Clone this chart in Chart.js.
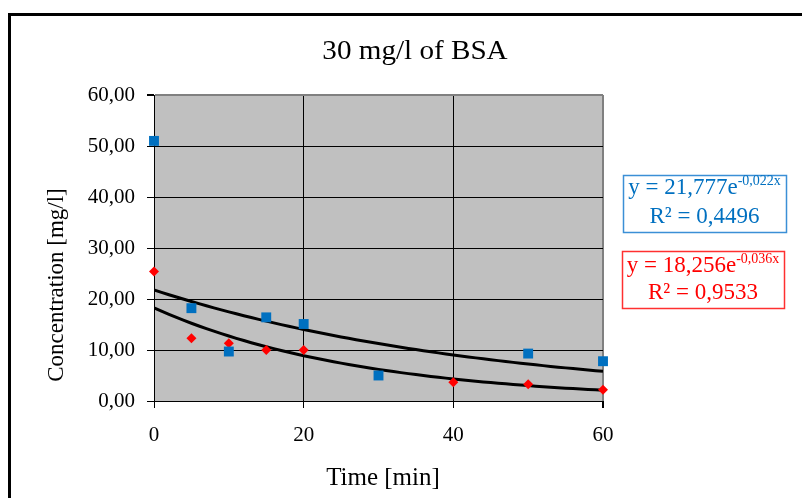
<!DOCTYPE html>
<html>
<head>
<meta charset="utf-8">
<script src="https://cdn.jsdelivr.net/npm/chart.js@4"></script>
<style>
  html, body { margin: 0; padding: 0; background: #fff; }
  #wrap { width: 802px; height: 498px; }
</style>
</head>
<body>
<div id="wrap"><canvas id="bsaChart" width="802" height="498"></canvas></div>
<script>
// measured points
const blueTimes = [0, 5, 10, 15, 20, 30, 50, 60];
const blueConc = [51.0, 18.2, 9.7, 16.4, 15.1, 5.0, 9.3, 7.8];
const redTimes = [0, 5, 10, 15, 20, 40, 50, 60];
const redConc = [25.4, 12.3, 11.3, 10.0, 10.0, 3.7, 3.3, 2.2];

// exponential fits printed on the chart
const blueFit = { a: 21.777, b: -0.022, r2: '0,4496' };
const redFit = { a: 18.256, b: -0.036, r2: '0,9533' };

const chartTitle = '30 mg/l of BSA';
const xTitle = 'Time [min]';
const yTitle = 'Concentration [mg/l]';

const serif = '"Liberation Serif", "Times New Roman", serif';

function fitLine(fit) {
    const pts = [];
    for (let t = 0; t <= 60; t++) pts.push({ x: t, y: fit.a * Math.exp(fit.b * t) });
    return pts;
}
function toPoints(xs, ys) {
    return xs.map((x, i) => ({ x: x, y: ys[i] }));
}
function comma(v, d) {
    return v.toFixed(d).replace('.', ',');
}

const decor = {
    id: 'decor',
    beforeDraw(chart) {
        const ctx = chart.ctx;
        const a = chart.chartArea;
        ctx.save();
        ctx.fillStyle = '#fff';
        ctx.fillRect(0, 0, chart.width, chart.height);
        ctx.strokeStyle = '#000';
        ctx.lineWidth = 3;
        ctx.strokeRect(9.5, 14.5, 900, 600);
        ctx.fillStyle = '#c0c0c0';
        ctx.fillRect(a.left, a.top, a.right - a.left, a.bottom - a.top);
        ctx.restore();
    },
    afterDraw(chart) {
        const ctx = chart.ctx;
        ctx.save();
        ctx.fillStyle = '#000';
        ctx.textAlign = 'center';
        ctx.textBaseline = 'alphabetic';
        ctx.font = '28px ' + serif;
        stretched(ctx, chartTitle, 415, 59, 1.04);
        ctx.font = '25px ' + serif;
        stretched(ctx, xTitle, 383, 485, 1.0);
        ctx.translate(63, 285);
        ctx.rotate(-Math.PI / 2);
        ctx.font = '23px ' + serif;
        ctx.fillText(yTitle, 0, 0);
        ctx.restore();
        drawEq(ctx, 623, 175, 163, 57, '#0070c0', '#3b8fd6', blueFit, 19);
        drawEq(ctx, 622, 251, 162, 57, '#ff0000', '#ff3030', redFit, 21);
    }
};

function stretched(ctx, text, x, y, sx) {
    ctx.save();
    ctx.translate(x, y);
    ctx.scale(sx, 1);
    ctx.fillText(text, 0, 0);
    ctx.restore();
}

function drawEq(ctx, x, y, w, h, color, border, fit, base) {
    ctx.save();
    ctx.strokeStyle = border;
    ctx.lineWidth = 1.5;
    ctx.strokeRect(x + 0.5, y + 0.5, w, h);
    ctx.fillStyle = color;
    ctx.textBaseline = 'alphabetic';
    const main = 'y = ' + comma(fit.a, 3) + 'e';
    const sup = comma(fit.b, 3) + 'x';
    ctx.font = '23px ' + serif;
    const mw = ctx.measureText(main).width;
    ctx.font = '14px ' + serif;
    const sw = ctx.measureText(sup).width;
    const sx = x + w / 2 - (mw + sw) / 2;
    ctx.font = '23px ' + serif;
    ctx.fillText(main, sx, y + base);
    ctx.font = '14px ' + serif;
    ctx.fillText(sup, sx + mw, y + base - 9);
    ctx.font = '23px ' + serif;
    ctx.textAlign = 'center';
    ctx.fillText('R\u00b2 = ' + fit.r2, x + w / 2, y + 48);
    ctx.restore();
}

const ctx = document.getElementById('bsaChart').getContext('2d');
new Chart(ctx, {
    type: 'scatter',
    data: {
        datasets: [
            {
                label: 'fit blue',
                data: fitLine(blueFit),
                showLine: true,
                borderColor: '#000',
                borderWidth: 3,
                pointRadius: 0,
                order: 3
            },
            {
                label: 'fit red',
                data: fitLine(redFit),
                showLine: true,
                borderColor: '#000',
                borderWidth: 3,
                pointRadius: 0,
                order: 3
            },
            {
                label: 'red',
                data: toPoints(redTimes, redConc),
                pointStyle: 'rectRot',
                pointRadius: 5,
                backgroundColor: '#ff0000',
                borderColor: '#ff0000',
                borderWidth: 0,
                clip: false,
                order: 2
            },
            {
                label: 'blue',
                data: toPoints(blueTimes, blueConc),
                pointStyle: 'rect',
                pointRadius: 7,
                backgroundColor: '#0070c0',
                borderColor: '#0070c0',
                borderWidth: 0,
                clip: false,
                order: 1
            }
        ]
    },
    options: {
        responsive: false,
        animation: false,
        layout: { padding: { left: 0, right: 199, top: 95, bottom: 0 } },
        plugins: {
            legend: { display: false },
            tooltip: { enabled: false },
            title: { display: false }
        },
        scales: {
            x: {
                type: 'linear',
                min: 0,
                max: 60,
                afterFit: s => { s.height = 97; },
                ticks: {
                    stepSize: 20,
                    color: '#000',
                    padding: 15,
                    font: { family: serif, size: 21 }
                },
                grid: {
                    color: c => c.tick && c.tick.value === 60 ? '#808080' : '#000',
                    lineWidth: c => c.tick && c.tick.value === 60 ? 2 : 1,
                    tickColor: '#000',
                    tickLength: 7
                },
                border: { color: '#000', width: 1 }
            },
            y: {
                min: 0,
                max: 60,
                afterFit: s => { s.width = 154; },
                ticks: {
                    stepSize: 10,
                    color: '#000',
                    padding: 12,
                    font: { family: serif, size: 21 },
                    callback: v => comma(v, 2)
                },
                grid: {
                    color: c => c.tick && c.tick.value === 60 ? '#808080' : '#000',
                    lineWidth: c => c.tick && c.tick.value === 60 ? 2 : 1,
                    tickColor: '#000',
                    tickLength: 7
                },
                border: { color: '#000', width: 1 }
            }
        }
    },
    plugins: [decor]
});
</script>
</body>
</html>
